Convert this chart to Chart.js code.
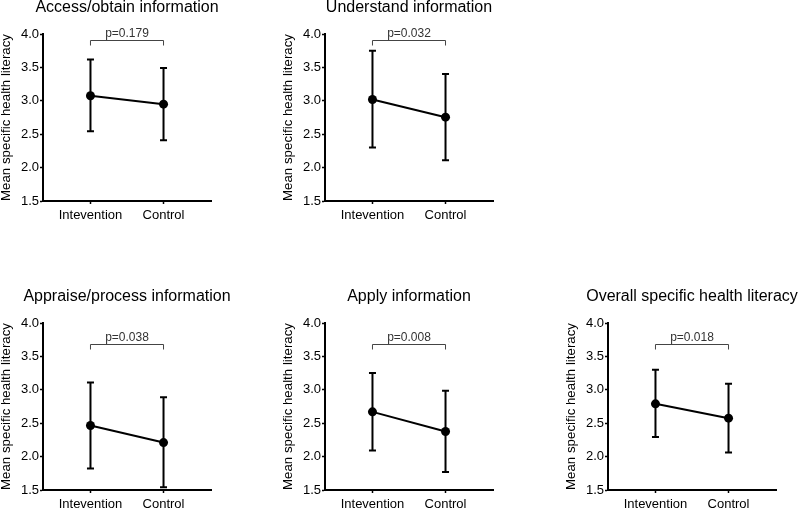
<!DOCTYPE html>
<html>
<head>
<meta charset="utf-8">
<script src="https://cdn.jsdelivr.net/npm/chart.js@4"></script>
<style>
  html, body { margin: 0; padding: 0; background: #fff; overflow: hidden; }
  body { width: 799px; height: 509px; position: relative; }
  canvas { position: absolute; }
</style>
</head>
<body>
<script>
const titles = [
  "Access/obtain information",
  "Understand information",
  "Appraise/process information",
  "Apply information",
  "Overall specific health literacy",
];
const groups = ["Intevention", "Control"];
const pValues = ["p=0.179", "p=0.032", "p=0.038", "p=0.008", "p=0.018"];

// means and error bar ends
const intMean = [3.075, 3.02, 2.465, 2.67, 2.79];
const intLow = [2.545, 2.3, 1.82, 2.09, 2.295];
const intHigh = [3.62, 3.75, 3.11, 3.25, 3.30];
const ctrlMean = [2.95, 2.755, 2.21, 2.375, 2.575];
const ctrlLow = [2.41, 2.11, 1.54, 1.77, 2.06];
const ctrlHigh = [3.49, 3.40, 2.89, 2.985, 3.09];
const bracketY = [3.91, 3.91, 3.69, 3.69, 3.69];

const yTicks = [1.5, 2.0, 2.5, 3.0, 3.5, 4.0];

// where each plot area sits on the page (left, top)
const panelPos = [[43, 34], [325, 34], [43, 323], [325, 323], [608, 323]];

const FONT = "'Liberation Sans', Arial, Helvetica, sans-serif";

// error bars, significance bracket and panel title
const extrasPlugin = {
  id: "extras",
  afterDatasetsDraw(chart, args, opts) {
    const ctx = chart.ctx;
    const xs = chart.scales.x;
    const ys = chart.scales.y;
    const i = opts.idx;
    ctx.save();
    ctx.strokeStyle = "#000";
    ctx.lineWidth = 2;
    const bars = [
      [0, intLow[i], intHigh[i]],
      [1, ctrlLow[i], ctrlHigh[i]],
    ];
    bars.forEach(([xv, lo, hi]) => {
      const x = xs.getPixelForValue(xv);
      const y1 = ys.getPixelForValue(lo);
      const y2 = ys.getPixelForValue(hi);
      ctx.beginPath();
      ctx.moveTo(x, y1);
      ctx.lineTo(x, y2);
      ctx.moveTo(x - 3.5, y1);
      ctx.lineTo(x + 3.5, y1);
      ctx.moveTo(x - 3.5, y2);
      ctx.lineTo(x + 3.5, y2);
      ctx.stroke();
    });
    ctx.restore();
  },
  afterDraw(chart, args, opts) {
    const ctx = chart.ctx;
    const xs = chart.scales.x;
    const ys = chart.scales.y;
    const i = opts.idx;
    const area = chart.chartArea;
    ctx.save();
    // bracket
    const xa = xs.getPixelForValue(0);
    const xb = xs.getPixelForValue(1);
    const yb = Math.round(ys.getPixelForValue(bracketY[i])) + 0.5;
    ctx.strokeStyle = "#444";
    ctx.lineWidth = 1;
    ctx.beginPath();
    ctx.moveTo(xa, yb + 5);
    ctx.lineTo(xa, yb);
    ctx.lineTo(xb, yb);
    ctx.lineTo(xb, yb + 5);
    ctx.stroke();
    ctx.fillStyle = "#333";
    ctx.font = "12px " + FONT;
    ctx.textAlign = "center";
    ctx.textBaseline = "alphabetic";
    ctx.fillText(pValues[i], (xa + xb) / 2, yb - 4);
    // title
    ctx.fillStyle = "#000";
    ctx.font = "16px " + FONT;
    ctx.textBaseline = "middle";
    ctx.fillText(titles[i], (area.left + area.right) / 2, area.top - 26);
    ctx.restore();
  },
};

const AREA_W = 168;
const AREA_H = 167;
const Y_W = 43;
const X_H = 34;
const TOP = 34;
const RIGHT = 22;

titles.forEach((t, i) => {
  const canvas = document.createElement("canvas");
  const w = Y_W + AREA_W + RIGHT;
  const h = TOP + AREA_H + X_H;
  canvas.width = w;
  canvas.height = h;
  canvas.style.width = w + "px";
  canvas.style.height = h + "px";
  canvas.style.left = (panelPos[i][0] - Y_W) + "px";
  canvas.style.top = (panelPos[i][1] - TOP) + "px";
  document.body.appendChild(canvas);

  new Chart(canvas.getContext("2d"), {
    type: "line",
    data: {
      datasets: [
        {
          data: [
            { x: 0, y: intMean[i] },
            { x: 1, y: ctrlMean[i] },
          ],
          borderColor: "#000",
          backgroundColor: "#000",
          borderWidth: 2,
          pointRadius: 4.5,
          pointBackgroundColor: "#000",
          pointBorderWidth: 0,
          clip: false,
        },
      ],
    },
    options: {
      responsive: false,
      animation: false,
      devicePixelRatio: 1,
      layout: { padding: { top: TOP, right: RIGHT, left: 0, bottom: 0 } },
      plugins: {
        legend: { display: false },
        tooltip: { enabled: false },
        extras: { idx: i },
      },
      scales: {
        x: {
          type: "linear",
          min: -0.65,
          max: 1.65,
          afterFit: (s) => { s.height = X_H; },
          afterBuildTicks: (s) => { s.ticks = [{ value: 0 }, { value: 1 }]; },
          ticks: {
            callback: (v) => groups[v],
            color: "#000",
            font: { family: FONT, size: 13 },
            padding: 4,
            maxRotation: 0,
          },
          grid: {
            drawOnChartArea: false,
            drawTicks: true,
            tickLength: 3,
            tickWidth: 1.5,
            tickColor: "#000",
          },
          border: { color: "#000", width: 2 },
        },
        y: {
          min: 1.5,
          max: 4.0,
          afterFit: (s) => { s.width = Y_W; },
          afterBuildTicks: (s) => { s.ticks = yTicks.map((v) => ({ value: v })); },
          ticks: {
            callback: (v) => Number(v).toFixed(1),
            color: "#000",
            font: { family: FONT, size: 13 },
            padding: 1,
          },
          grid: {
            drawOnChartArea: false,
            drawTicks: true,
            tickLength: 3,
            tickWidth: 1.5,
            tickColor: "#000",
          },
          border: { color: "#000", width: 2 },
          title: {
            display: true,
            text: "Mean specific health literacy",
            color: "#000",
            font: { family: FONT, size: 13.3, lineHeight: 1 },
            padding: 0,
          },
        },
      },
    },
    plugins: [extrasPlugin],
  });
});
</script>
</body>
</html>
